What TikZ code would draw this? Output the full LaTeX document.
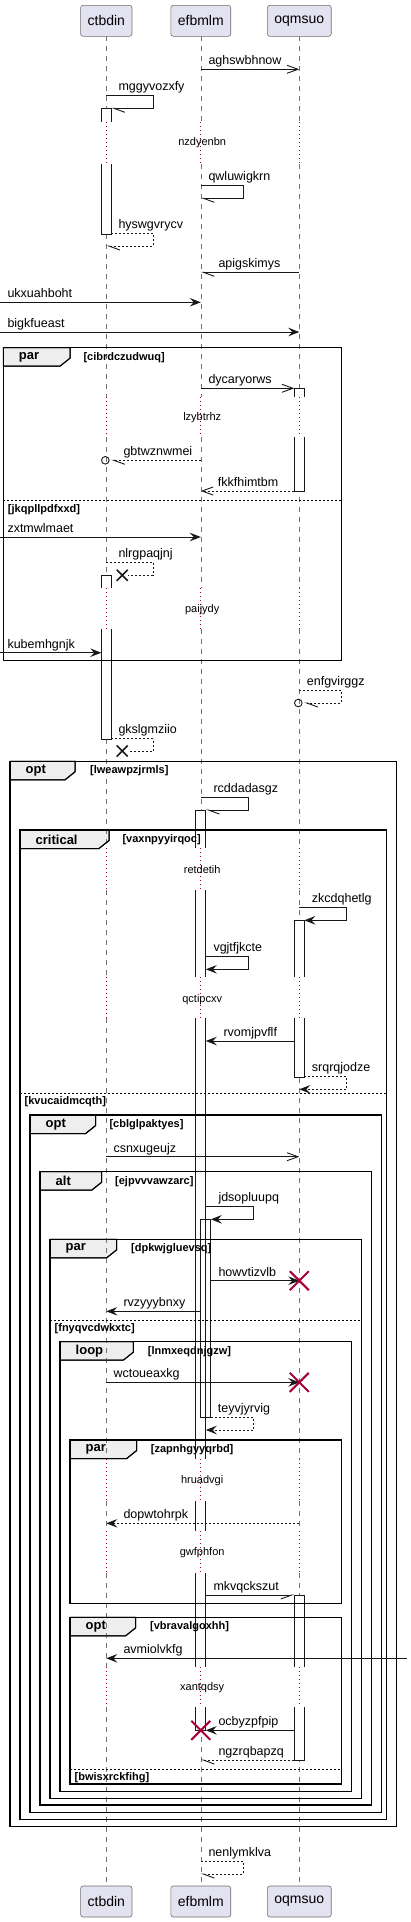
\documentclass[tikz,border=0pt]{standalone}
\usepackage{fontspec}
\setmainfont{Liberation Sans}
\usetikzlibrary{arrows.meta}
\definecolor{partfill}{HTML}{E2E2F0}
\definecolor{partline}{HTML}{6E6E6E}
\definecolor{delaycol}{HTML}{A80036}
\definecolor{tabfill}{HTML}{EEEEEE}
\definecolor{ink}{HTML}{181818}
\tikzset{
  participant/.style={draw=partline, fill=partfill, rounded corners=2.5pt, line width=0.6pt,
    minimum height=31pt, inner xsep=7pt, inner ysep=0pt, font=\fontsize{14}{16}\selectfont},
  lifeline/.style={draw=black!55, line width=0.6pt, dash pattern=on 5pt off 5pt},
  delayline/.style={draw=delaycol, line width=0.9pt, dash pattern=on 1pt off 3pt},
  delaytext/.style={inner sep=0pt, font=\fontsize{11}{13}\selectfont},
  actbar/.style={draw=ink, fill=white, line width=0.9pt},
  msg/.style={draw=ink, line width=0.9pt},
  reply/.style={msg, dash pattern=on 2pt off 2pt},
  tipfill/.style={-{Stealth[length=11pt,width=8.5pt,inset=4pt]}},
  tipopen/.style={-{Straight Barb[length=11pt,width=8pt]}},
  halfl/.style={-{Straight Barb[harpoon,length=11pt,width=8pt]}},
  halfr/.style={-{Straight Barb[harpoon,swap,length=11pt,width=8pt]}},
  lbl/.style={anchor=base west, inner sep=0pt, font=\fontsize{12.5}{14}\selectfont},
  grpedge/.style={draw=black, line width=1.5pt},
  grptab/.style={draw=black, fill=tabfill, line width=1pt},
  grpkind/.style={anchor=west, inner sep=0pt, font=\fontsize{13}{15}\selectfont\bfseries},
  grpcond/.style={anchor=west, inner sep=0pt, font=\fontsize{11}{13}\selectfont\bfseries},
  elseline/.style={draw=black, line width=0.8pt, dash pattern=on 2pt off 2pt},
  killmark/.style={draw=delaycol, line width=2pt},
  lostmark/.style={draw=ink, line width=1.6pt}
}
% name/kind/condition/x1/y1/x2/y2/tab right/condition x
\newcommand{\grplist}{parA/par/cibrdczudwuq/3.3/347.7/341.7/660.3/70/83.3,
  optA/opt/lweawpzjrmls/10/761.3/396.7/1826.7/75/90,
  critA/critical/vaxnpyyirqoc/20/830/386.7/1819.3/109/122.3,
  optB/opt/cblglpaktyes/30/1115/381.7/1812.7/95.7/109.3,
  altA/alt/ejpvvvawzarc/40/1171.7/371.7/1805/101.7/115,
  parB/par/dpkwjgluevsq/50/1239.3/361.7/1798.3/116.7/131,
  loopA/loop/lnmxeqdnjgzw/60/1341.7/351.7/1791.7/133.3/147.7,
  parC/par/zapnhgyyqrbd/70/1440/341.7/1603.3/136.7/150.7,
  optC/opt/vbravalgoxhh/70/1617.3/341.7/1784/135.7/150}
\begin{document}
\begin{tikzpicture}[x=1pt,y=-1pt]
      \useasboundingbox (0,0) rectangle (411,1922);
      \foreach \nm/\kd/\cd/\xa/\ya/\xb/\yb/\tr/\cx in \grplist {
        \draw[grpedge] (\xa,\ya) rectangle (\xb,\yb);
        \draw[grptab] (\xa,\ya) -- (\tr,\ya) -- (\tr,\ya+10.5) -- (\tr-10,\ya+18.5) -- (\xa,\ya+18.5) -- cycle;
      }

      \node[participant] (ctbdin) at (106.3,20.8) {ctbdin};
      \node[participant] (efbmlm) at (200.8,20.8) {efbmlm};
      \node[participant] (oqmsuo) at (299.3,20.8) {oqmsuo};
      \node[participant] (ctbdin-end) at (106.3,1901.5) {ctbdin};
      \node[participant] (efbmlm-end) at (200.8,1901.5) {efbmlm};
      \node[participant] (oqmsuo-end) at (299.3,1901.5) {oqmsuo};
      \coordinate (left) at (0,0);
      \coordinate (right) at (406.7,0);
      \coordinate (ctbdin-l) at (101.3,0);
      \coordinate (ctbdin-r) at (111.3,0);
      \coordinate (efbmlm-r) at (205.8,0);
      \coordinate (efbmlm-rr) at (210.8,0);
      \coordinate (oqmsuo-l) at (294.3,0);
      \coordinate (oqmsuo-r) at (304.3,0);

      \foreach \who in {ctbdin,efbmlm,oqmsuo}
        \foreach \ya/\yb in {36.3/122,164/396.7,436.7/588.3,629.3/848.3,890/976.7,1018.3/1459.3,1501/1531,1573.3/1666.7,1706.7/1886}
          \draw[lifeline] (\who |- 0,\ya) -- (\who |- 0,\yb);
      \foreach \xa/\ya/\yb in {101.3/108.3/234,294.3/388.3/491,101.3/575.3/739,195.8/810/1730,294.3/920.3/1077.3,294.3/1595/1760}
        \draw[actbar] (\xa,\ya) rectangle ++(10,\yb-\ya);
      \draw[actbar, fill=none] (200.8,1219.3) rectangle (210.8,1417.3);
      \foreach \xa/\ya/\yb in {101.3/122/164,294.3/396.7/436.7,101.3/588.3/629.3,195.8/848.3/890,195.8/976.7/1018.3,294.3/976.7/1018.3,195.8/1459.3/1501,195.8/1531/1573.3,195.8/1666.7/1706.7,294.3/1666.7/1706.7}
        \fill[white] (\xa-1,\ya) rectangle (\xa+11,\yb);
      \foreach \who in {ctbdin,efbmlm,oqmsuo}
        \foreach \ya/\yb in {122/164,396.7/436.7,588.3/629.3,848.3/890,976.7/1018.3,1459.3/1501,1531/1573.3,1666.7/1706.7}
          \draw[delayline] (\who |- 0,\ya) -- (\who |- 0,\yb);
      \node[delaytext] (nzdyenbn) at (202.2,142.5) {nzdyenbn};
      \node[delaytext] (lzybtrhz) at (202.2,417.5) {lzybtrhz};
      \node[delaytext] (paijydy) at (202.2,609.5) {paijydy};
      \node[delaytext] (retdetih) at (202.2,869.5) {retdetih};
      \node[delaytext] (qctipcxv) at (202.2,999.5) {qctipcxv};
      \node[delaytext] (hruadvgi) at (202.2,1480.5) {hruadvgi};
      \node[delaytext] (gwfphfon) at (202.2,1552.8) {gwfphfon};
      \node[delaytext] (xantqdsy) at (202.2,1687.8) {xantqdsy};

      \foreach \nm/\kd/\cd/\xa/\ya/\xb/\yb/\tr/\cx in \grplist {
        \draw[grpedge] (\xa,\ya) rectangle (\xb,\yb);
        \draw[grptab, fill=none] (\xa,\ya) -- (\tr,\ya) -- (\tr,\ya+10.5) -- (\tr-10,\ya+18.5) -- (\xa,\ya+18.5);
        \node[grpkind] (\nm-kind) at (\xa+15.5,\ya+9.5) {\kd};
        \node[grpcond] (\nm-cond) at (\cx,\ya+9.5) {[\cd]};
      }
      \draw[elseline] (3.3,500) -- (341.7,500);
      \node[grpcond] (jkqpllpdfxxd) at (7.8,509.5) {[jkqpllpdfxxd]};
      \draw[elseline] (20,1093) -- (386.7,1093);
      \node[grpcond] (kvucaidmcqth) at (24.5,1102) {[kvucaidmcqth]};
      \draw[elseline] (50,1320) -- (361.7,1320);
      \node[grpcond] (fnyqvcdwkxtc) at (54.5,1329) {[fnyqvcdwkxtc]};
      \draw[elseline] (70,1769.3) -- (341.7,1769.3);
      \node[grpcond] (bwisxrckfihg) at (74.5,1778) {[bwisxrckfihg]};

      \draw[msg,tipopen] (efbmlm |- 0,69.3) -- (oqmsuo |- 0,69.3);
      \node[lbl] (aghswbhnow) at (208.3,64.8) {aghswbhnow};
      \draw[msg,halfl] (ctbdin |- 0,95.7) -- ++(47,0) -- ++(0,12.6) -- (ctbdin-r |- 0,108.3);
      \node[lbl] (mggyvozxfy) at (118.3,90.7) {mggyvozxfy};
      \draw[msg,halfl] (efbmlm |- 0,185.7) -- ++(42.5,0) -- ++(0,12.6) -- (efbmlm |- 0,198.3);
      \node[lbl] (qwluwigkrn) at (208.3,180.7) {qwluwigkrn};
      \draw[reply,halfl] (ctbdin-r |- 0,233.3) -- ++(42,0) -- ++(0,12.7) -- (ctbdin |- 0,246);
      \node[lbl] (hyswgvrycv) at (118.3,228.3) {hyswgvrycv};
      \draw[msg,halfl] (oqmsuo |- 0,272.3) -- (efbmlm |- 0,272.3);
      \node[lbl] (apigskimys) at (218.3,267.8) {apigskimys};
      \draw[msg,tipfill] (left |- 0,302.3) -- (efbmlm |- 0,302.3);
      \node[lbl] (ukxuahboht) at (7.3,297.8) {ukxuahboht};
      \draw[msg,tipfill] (left |- 0,332) -- (oqmsuo |- 0,332);
      \node[lbl] (bigkfueast) at (7.3,327.5) {bigkfueast};
      \draw[msg,tipopen] (efbmlm |- 0,388.3) -- (oqmsuo-l |- 0,388.3);
      \node[lbl] (dycaryorws) at (208.3,383.8) {dycaryorws};
      \draw[reply,halfl] (efbmlm |- 0,460.3) -- (ctbdin-r |- 0,460.3);
      \draw[msg] (ctbdin |- 0,460.3) ++(-1,0) circle[radius=3.8];
      \node[lbl] (gbtwznwmei) at (123.3,455.8) {gbtwznwmei};
      \draw[reply,tipopen] (oqmsuo-l |- 0,491) -- (efbmlm |- 0,491);
      \node[lbl] (fkkfhimtbm) at (217.7,486.5) {fkkfhimtbm};
      \draw[msg,tipfill] (left |- 0,537) -- (efbmlm |- 0,537);
      \node[lbl] (zxtmwlmaet) at (7.3,532.5) {zxtmwlmaet};
      \draw[reply] (ctbdin |- 0,562.3) -- ++(47,0) -- ++(0,13) -- ++(-25,0);
      \draw[lostmark] (122.2,575.3) ++(-5.5,-5.5) -- ++(11,11) ++(0,-11) -- ++(-11,11);
      \node[lbl] (nlrgpaqjnj) at (118.3,557.3) {nlrgpaqjnj};
      \draw[msg,tipfill] (left |- 0,652.7) -- (ctbdin-l |- 0,652.7);
      \node[lbl] (kubemhgnjk) at (7.3,648.2) {kubemhgnjk};
      \draw[reply,halfl] (oqmsuo |- 0,690.7) -- ++(42.4,0) -- ++(0,12.3) -- (oqmsuo-r |- 0,703);
      \draw[msg] (oqmsuo |- 0,703) ++(-1,0) circle[radius=3.8];
      \node[lbl] (enfgvirggz) at (306.7,685.7) {enfgvirggz};
      \draw[reply] (ctbdin-r |- 0,738.7) -- ++(42,0) -- ++(0,12.3) -- ++(-25,0);
      \draw[lostmark] (122.2,751) ++(-5.5,-5.5) -- ++(11,11) ++(0,-11) -- ++(-11,11);
      \node[lbl] (gkslgmziio) at (118.3,733.7) {gkslgmziio};
      \draw[msg,halfl] (efbmlm |- 0,797.3) -- ++(47.5,0) -- ++(0,12.7) -- (efbmlm-r |- 0,810);
      \node[lbl] (rcddadasgz) at (213.3,792.3) {rcddadasgz};
      \draw[msg,tipfill] (oqmsuo |- 0,907.3) -- ++(47.4,0) -- ++(0,13) -- (oqmsuo-r |- 0,920.3);
      \node[lbl] (zkcdqhetlg) at (311.7,902.3) {zkcdqhetlg};
      \draw[msg,tipfill] (efbmlm-r |- 0,956.7) -- ++(42.5,0) -- ++(0,12.6) -- (efbmlm-r |- 0,969.3);
      \node[lbl] (vgjtfjkcte) at (213.3,951.7) {vgjtfjkcte};
      \draw[msg,tipfill] (oqmsuo-l |- 0,1041) -- (efbmlm-r |- 0,1041);
      \node[lbl] (rvomjpvflf) at (223.3,1036.5) {rvomjpvflf};
      \draw[reply,tipfill] (oqmsuo-r |- 0,1076.7) -- ++(42.4,0) -- ++(0,12.6) -- (oqmsuo |- 0,1089.3);
      \node[lbl] (srqrqjodze) at (311.7,1071.7) {srqrqjodze};
      \draw[msg,tipopen] (ctbdin |- 0,1156.7) -- (oqmsuo |- 0,1156.7);
      \node[lbl] (csnxugeujz) at (113.3,1152.2) {csnxugeujz};
      \draw[msg,tipfill] (efbmlm-r |- 0,1206.7) -- ++(47.5,0) -- ++(0,12.6) -- (efbmlm-rr |- 0,1219.3);
      \node[lbl] (jdsopluupq) at (218.3,1201.7) {jdsopluupq};
      \draw[msg,tipfill] (efbmlm-rr |- 0,1280.7) -- (oqmsuo |- 0,1280.7);
      \draw[killmark] (oqmsuo |- 0,1280.7) ++(-9.5,-9.5) -- ++(19,19) ++(0,-19) -- ++(-19,19);
      \node[lbl] (howvtizvlb) at (218.3,1276.2) {howvtizvlb};
      \draw[msg,tipfill] (efbmlm |- 0,1311.3) -- (ctbdin |- 0,1311.3);
      \node[lbl] (rvzyyybnxy) at (123.3,1306.8) {rvzyyybnxy};
      \draw[msg,tipfill] (ctbdin |- 0,1382.3) -- (oqmsuo |- 0,1382.3);
      \draw[killmark] (oqmsuo |- 0,1382.3) ++(-9.5,-9.5) -- ++(19,19) ++(0,-19) -- ++(-19,19);
      \node[lbl] (wctoueaxkg) at (113.3,1377.8) {wctoueaxkg};
      \draw[reply,tipfill] (efbmlm-rr |- 0,1417.3) -- ++(42.5,0) -- ++(0,12.7) -- (efbmlm-r |- 0,1430);
      \node[lbl] (teyvjyrvig) at (217.7,1412.3) {teyvjyrvig};
      \draw[reply,tipfill] (oqmsuo |- 0,1523.3) -- (ctbdin |- 0,1523.3);
      \node[lbl] (dopwtohrpk) at (123.3,1518.8) {dopwtohrpk};
      \draw[msg,halfr] (efbmlm-r |- 0,1595) -- (oqmsuo-l |- 0,1595);
      \node[lbl] (mkvqckszut) at (213.3,1590.5) {mkvqckszut};
      \draw[msg,tipfill] (right |- 0,1658.3) -- (ctbdin |- 0,1658.3);
      \node[lbl] (avmiolvkfg) at (123.3,1653.8) {avmiolvkfg};
      \draw[msg,tipfill] (oqmsuo-l |- 0,1730.3) -- (efbmlm-r |- 0,1730.3);
      \draw[killmark] (efbmlm |- 0,1730.3) ++(-9.5,-9.5) -- ++(19,19) ++(0,-19) -- ++(-19,19);
      \node[lbl] (ocbyzpfpip) at (218.3,1725.8) {ocbyzpfpip};
      \draw[reply,halfl] (oqmsuo-l |- 0,1760) -- (efbmlm |- 0,1760);
      \node[lbl] (ngzrqbapzq) at (218.3,1755.5) {ngzrqbapzq};
      \draw[reply,halfl] (efbmlm |- 0,1861.7) -- ++(42.5,0) -- ++(0,12.3) -- (efbmlm |- 0,1874);
      \node[lbl] (nenlymklva) at (208.3,1856.7) {nenlymklva};
    \end{tikzpicture}
\end{document}
